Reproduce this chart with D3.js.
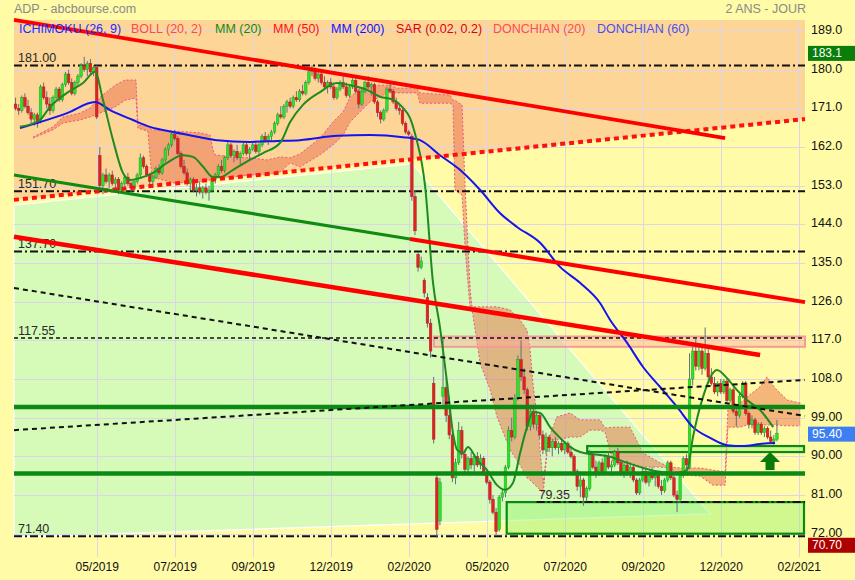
<!DOCTYPE html>
<html><head><meta charset="utf-8">
<script src="https://cdn.jsdelivr.net/npm/d3@7"></script>
<style>
body{margin:0;background:#FFFBA6;}
svg{display:block;font-family:"Liberation Sans",Arial,sans-serif;}
</style></head>
<body><svg id="c" width="855" height="580"></svg>
<script>
// ---------- DATA ----------
const opens=[172,171,170.5,173.5,171.5,170,168.5,169.5,168,176,
173.5,172,170.5,173.5,175.5,173,176.5,179,177,174.5,
177,178.5,181,180,181.5,179.5,180.5,160,153,155.5,
154,155.5,153.5,154.5,152,153.5,155,153.5,152.5,154,
155.5,159.5,157.5,155.5,154,155,157,156,159,161.5,
162.5,165,164,160.5,157.5,156,153.5,154.5,152,152.5,
151.5,152.5,151.5,152,154.5,155.5,157.5,156.5,159.5,162.5,
160,161,159.5,160.5,162.5,160.5,161.5,162.5,161,162.5,
164.5,163.5,164.5,165.5,167.5,169.5,169,171.5,172.5,171.5,
173.5,173,175,174.5,177,179.5,180,178,179,177,
176,177,176,173.5,175.5,177,176,174,176,177.5,
175,172,175,177,176,176.5,172.5,170,168.5,170.5,
175.5,175,172.5,171,170.5,167.5,165.5,164.5,150.5,137,
134,131,127,121,107,85,75,104,106,99.5,
95,85,88.5,96,90.5,87,89.5,88,90,88,
89.5,86,84,80,77,73,80.5,81.5,87.5,96,
94.5,103.5,112.5,108.5,105.5,97,100.5,97.5,99.5,95,
91.5,94.5,92,93.5,92,93,91.5,93,91,90,
86.5,83,84.5,80.5,82.5,90.5,87.5,86,88.5,86.5,
90,87.5,88,91,88.5,86,88,86.5,87.5,84.5,
81.5,84.5,86.5,84,86,85,85.5,83,82,84.5,
88.5,85,81,80,85.5,89.5,87.5,108,114.5,111,
114.5,110.5,114,108.5,107,105,107,105,107.5,103,
105.5,100.5,99.5,104,107,100,97.5,98.5,95.5,97.5,
95.5,96.5,94.5,93.5,94];
const highs=[173.5,172,174,174.5,173,171,170,170,176.5,177,
175,173.5,174,176,176,177,179.5,180,178,177.5,
179,181.5,183,182,182.5,181,181,162,156,157,
156,156.5,155,155,154,155.5,156,154,154.5,156,
160.5,160,158,156,155.5,157.5,158,159.5,162,163,
165.5,166,164.5,161,159,157,155,155,153.5,154,
153,153.5,153,155,156,158,159,160,163.5,163,
161.5,162.5,161,163,163,162,163,163.5,163,165,
165.5,165,166,168,170,171.5,172,173,173.5,174,
175,175.5,176.5,177.5,180.5,181,180.5,179.5,180,178.5,
177.5,178,177,176,177.5,178.5,177,176.5,178,178,
175.5,175.5,177.5,178.5,177,177,173,170.5,171,176,
177,175.5,173.5,172,171,168,166,165,152,137.5,
136.5,131.5,128,122,108.5,86,85,117.5,108.5,104,
96,89.5,98,97,91.5,90,91,90.5,91,90.5,
90,87,84.5,81,78,81,82.5,88,97,99,
104.5,113.5,117,110.5,106,101.5,102,100.5,100,96,
95.5,95,94,94.5,93.5,94,93.5,93.5,92.5,90.5,
87,85.5,85,83,91.5,91,89,89,89.5,90.5,
91,89,91.5,92,89,88.5,89,88,88,85,
85,87.5,87,86.5,87.5,86,86.5,84.5,85,89,
89,85.5,82,86,90,90.5,114,115.5,117.5,115.5,
116,120,115,110.5,108.5,107.5,108,108,108,106,
106,101.5,104.5,107.5,107.5,100.5,99.5,99,98,98,
97,97,96,95,98.5];
const lows=[170.5,169.5,170,171,169.5,167.5,167,166.5,167.5,173,
171,169.5,170,173,172.5,172.5,176,176.5,174,174,
176,178,179.5,178.5,179,178.5,168.5,152,151,153.5,
152.5,153,152,151,151.5,152,153,151.5,151.5,153.5,
155,157,155,153,152.5,154.5,155.5,155.5,158.5,160,
162,163.5,160,157,155.5,153,152,151.5,150.5,151,
150,151,149.5,151.5,153.5,155,156,156,159,159.5,
158.5,159,158,160,160,159,161,160.5,160,162,
163,162.5,163.5,165,167,168.5,168.5,170,171,171,
172.5,172.5,174,174,176.5,178.5,177.5,177,176.5,175.5,
174.5,175.5,173,173,175,175.5,173.5,173.5,175.5,174.5,
171,171.5,174.5,175.5,174,172,169,167.5,168,170,
174.5,172,170.5,169.5,167,165,164.5,149.5,141.5,133,
133.5,127,120,113,93,71,74,102,98,94,
84,83.5,88,89.5,86,86,87,86.5,87.5,87,
85.5,83.5,79,76.5,71.5,72.5,79.5,80.5,87,93.5,
94,103,107.5,104.5,96,96,96.5,96,94,90.5,
90.5,91,90,91.5,90.5,91,90.5,90.5,89.5,86,
82,80.5,78.5,79.5,82,87,85,85.5,86,86,
87,85.5,87.5,88,85.5,85,85.5,85,84,81,
81,84,83.5,83,84.5,83,82.5,81,81.5,84,
84.5,80.5,77,79.5,85,87,87,106.5,110,110,
109,110,108,106.5,104.5,104,104.5,104.5,102.5,102.5,
100,97,99,103.5,99.5,96.5,96.5,95,95,95,
94.5,94,93,92.5,93.5];
const closes=[171,170.5,173.5,171.5,170,168.5,169.5,167.5,176,173.5,
172,170.5,173.5,175.5,173,176.5,179,177,174.5,177,
178.5,181,180,181.5,179.5,180.5,169,153,155.5,154,
155.5,153.5,154.5,152,153.5,155,153.5,152.5,154,155.5,
159.5,157.5,155.5,154,155,157,156,159,161.5,162.5,
165,164,160.5,157.5,156,153.5,154.5,152,152.5,151.5,
152.5,151.5,152,154.5,155.5,157.5,156.5,159.5,162.5,160,
161,159.5,160.5,162.5,160.5,161.5,162.5,161,162.5,164.5,
163.5,164.5,165.5,167.5,169.5,169,171.5,172.5,171.5,173.5,
173,175,174.5,177,179.5,180,178,179,177,176,
177,176,173.5,175.5,177,176,174,176,177.5,175,
172,175,177,176,176.5,172.5,170,168.5,170.5,175.5,
175,172.5,171,170.5,167.5,165.5,165,150.5,142.5,134,
135.5,128,121,114.5,94,73,84,106,99.5,95,
85,88.5,96,90.5,87,89.5,88,90,88,89.5,
86,84,80,77,72.5,80.5,81.5,87.5,96,94.5,
103.5,112.5,108.5,105.5,97,100.5,97.5,99.5,95,91.5,
94.5,92,93.5,92,93,91.5,93,91,90,86.5,
83,84.5,80.5,82.5,90.5,87.5,86,88.5,86.5,90,
87.5,88,91,88.5,86,88,86.5,87.5,84.5,81.5,
84.5,86.5,84,86,85,85.5,83,82,84.5,88.5,
85,81,80,85.5,89.5,88,108,114.5,111,114.5,
110.5,114,108.5,107,105,107,105,107.5,103,105.5,
100.5,99.5,104,107,100,97.5,98.5,95.5,97.5,95.5,
96.5,94.5,93.5,94,95.4];

// moving averages (bar index, value)
const mm20Idx=[1.4,7.8,11,16.5,21.6,25.5,28,31.2,34.4,36.7,39.9,44.1,48.5,53.7,56.9,60.1,63.3,65.5,69.7,75.1,79.3,84.8,88,92.1,97.6,103,107.2,112.6,116.8,121,124.2,126.4,128.7,130.3,131.2,133.8,136,138.3,140.2,141.5,143.4,145,147.9,151.1,154.3,156.9,159.4,161.7,163.9,165.8,168.1,171.3,174.5,177.7,180.9,190.5,196,201.1,206.5,212,215.2,217.1,220.3,224.8,228,231.2,234.4,238.6,242.8];
const mm20Val=[166.7,168.3,171.3,174.6,176.9,179.5,173,163.7,156,154.3,154.8,156,158.3,160.1,159.7,157.4,155,155,156.7,159,160.6,163,167.8,171.8,174.8,176.9,176.4,175.3,173.7,173,171.1,168.8,163.2,157.8,153.2,130.3,120.1,107.1,95.4,91.5,90.8,92.2,89.2,86.8,83.3,82.2,83.8,90.8,96.8,100.3,100.1,96.8,94.3,92.2,91,89.9,88.5,87.3,86.4,86.1,86.8,94.5,103.8,110.1,108.2,105.4,103.1,100.8,96.8];
const mm200Idx=[1.4,7.8,16.5,25.5,30.3,37.6,43.1,50.5,59.1,64.6,75.1,83.8,91.2,103,113.6,124.2,129.6,136,142.4,148.9,155.3,160.7,168.1,174.5,180.9,187.3,190.5,196,201.1,206.5,212,217.1,222.6,228,233.2,238.6,243.4];
const mm200Val=[166.4,167.8,169.9,172.5,170.6,168.3,166.7,165.5,164.3,163.6,163.2,163.4,163.6,164.6,164.8,164.3,163.6,160.1,156.7,152,146.6,143.4,139.7,134.1,130.4,125.7,121.8,116.4,110.8,106.2,101.5,96.8,94.3,92.6,92.4,92.9,93.1];

// Ichimoku cloud (bar index, span high, span low)
const cloudIdx=[5.6,12,15.2,20.7,23.9,27.1,31.9,35.1,38.6,39.2,42.4,43.7,51.1,59.1,62.3,63.3,63.9,69.7,75.1,80.6,84.8,88,91.2,97.6,101.7,105,107.2,110.4,113.6,117.8,120,122.3,128.7,129.6,139.2,140.2,140.8,143.1,144.1,145.7,146.3,148.9,152.1,154.3,158.5,161.7,163.9,164.9,165.8,167.1,168.1,169.1,170.7,173.5,177.7,180.9,184.1,187.3,188.9,191.5,196.9,201.1,206.5,209.8,213,219.4,223.5,227.4,228.3,232.2,234.4,238.6,240.8,243.4,247.3,251.5];
const cloudHi=[164.3,166.7,169.0,169.9,171.1,173.6,176.4,177.6,177.6,167.1,166.9,166.0,165.7,165.3,164.8,161.3,160.2,159.7,159.5,159.0,159.7,159.5,160.4,164.1,167.8,170.2,173.6,175.7,176.4,176.4,176.4,175.7,175.7,174.6,174.1,172.9,172.9,171.8,152.0,128.7,124.8,124.8,124.8,124.8,124.1,121.7,119.4,114.8,107.1,99.2,91.5,83.8,93.8,99.2,100.1,98.5,98.5,98.5,96.6,96.8,96.8,90.8,88.5,87.5,87.3,87.3,86.8,86.4,100.8,102.4,103.8,106.2,108.5,105.9,103.1,102.4];
const cloudLo=[164.1,166.0,167.6,168.3,169.0,169.9,171.3,172.9,173.4,166.4,165.7,155.0,153.6,153.9,154.3,154.8,155.0,155.0,155.5,155.5,156.2,158.3,157.4,160.2,162.5,164.8,167.8,170.2,172.5,174.1,174.8,174.6,174.6,172.2,172.2,171.8,152.0,150.8,138.0,124.1,124.1,111.7,105.5,99.2,91.5,88.0,85.0,84.5,83.8,82.9,82.2,81.5,93.8,93.8,94.5,94.5,96.1,96.1,95.7,88.5,88.5,87.5,87.5,87.3,85.7,85.4,83.3,83.3,96.8,96.8,97.3,97.3,97.3,97.3,97.1,97.1];

// axes
const yTicks=[189,180,171,162,153,144,135,126,117,108,99,90,81,72];
const xTickIdx=[26,51,76,101,126,151,176,201,226,251];
const xTickLabels=["05/2019","07/2019","09/2019","12/2019","02/2020","05/2020","07/2020","09/2020","12/2020","02/2021"];

// drawings (bar index, price)
const trendA=[[-0.5,191.6],[227.4,164.1]];
const trendDotted=[[-0.5,149.7],[253,168.5]];
const trendGreen=[[-0.5,155.5],[126.4,140.6]];
const trendD=[[126.4,140.6],[253,125.9]];
const trendE=[[-0.5,141.1],[238.6,113.6]];
const dashF=[[-0.5,129.2],[253,99.4]];
const dashG=[[-0.5,96.1],[253,107.8]];
const greenZone=[[-0.5,148.5],[127.1,158.1],[222.6,76.6],[-0.5,71.2]];
const supportLines=[101.5,86.0];
const levelVals=[181.00,151.70,137.70,71.40];
const levelLabels=["181.00","151.70","137.70","71.40"];
const dashedLevel=117.55, dashedLevelLabel="117.55";
const level7935=79.35, level7935Start=167, level7935Label="79.35";
const pinkZone={i0:134.1,i1:253,hi:117.9,lo:115.5};
const smallBox={i0:183.2,i1:253,hi:92.4,lo:91.0};
const bigBox={i0:157.4,i1:253,hi:79.35,lo:72.0};
const arrowAt=[241.8,91.0];
const priceTags=[{v:183.1,t:"183.1",c:"#0a7d0a",dy:-3},{v:95.40,t:"95.40",c:"#3d7ff2",dy:1},{v:70.70,t:"70.70",c:"#ad0000",dy:6}];
const legendItems=[
 {t:"ICHIMOKU (26, 9)",c:"#1a2cff"},{t:"BOLL (20, 2)",c:"#ff4848"},{t:"MM (20)",c:"#108a10"},
 {t:"MM (50)",c:"#ff1010"},{t:"MM (200)",c:"#1010ff"},{t:"SAR (0.02, 0.2)",c:"#e00000"},
 {t:"DONCHIAN (20)",c:"#ff4c4c"},{t:"DONCHIAN (60)",c:"#5050e0"}];
const legendX=[19,131,215,273,331,396,493,597];

// ---------- LAYOUT ----------
const W=855,H=580,L=14,R=805,T=20,B=555;
const BG="#FFFBA6",ORANGE="#FDD697",GREEN="#D6FBB8";
const x=d3.scaleLinear().domain([-0.5,253]).range([L,R]);
const y=d3.scaleLinear().domain([67.04,191.57]).range([B,T]);
const svg=d3.select("#c");
const P=d=>[x(d[0]),y(d[1])];
const line=d3.line();

svg.append("rect").attr("width",W).attr("height",H).attr("fill",BG);

// orange zone above dotted trend
svg.append("path").attr("fill",ORANGE)
 .attr("d",line([[x(-0.5),T],[x(253),T],P(trendDotted[1]),P(trendDotted[0])])+"Z");
// green triangle zone
svg.append("path").attr("fill",GREEN).attr("stroke","#ffffff").attr("stroke-width",1.2)
 .attr("d",line(greenZone.map(P))+"Z");

// grid
const grid=svg.append("g").attr("stroke","#d9d3ee").attr("stroke-width",1).attr("opacity",0.9);
grid.selectAll("line.h").data(yTicks).join("line").attr("class","h")
 .attr("x1",L).attr("x2",R).attr("y1",d=>Math.round(y(d))+0.5).attr("y2",d=>Math.round(y(d))+0.5);
grid.selectAll("line.v").data(xTickIdx).join("line").attr("class","v")
 .attr("y1",T).attr("y2",B+2).attr("x1",d=>Math.round(x(d))+0.5).attr("x2",d=>Math.round(x(d))+0.5);

// Ichimoku cloud
const cIdx=d3.range(cloudIdx.length);
svg.append("path").attr("fill","rgba(232,105,70,0.47)")
 .attr("d",d3.area().x(i=>x(cloudIdx[i])).y0(i=>y(cloudLo[i])).y1(i=>y(cloudHi[i]))(cIdx));
[cloudHi,cloudLo].forEach(arr=>{
 svg.append("path").attr("fill","none").attr("stroke","#f0508a").attr("stroke-width",1)
  .attr("stroke-dasharray","2,2")
  .attr("d",d3.line().x(i=>x(cloudIdx[i])).y(i=>y(arr[i]))(cIdx));
});

// zones
svg.append("rect").attr("x",x(pinkZone.i0)).attr("width",x(pinkZone.i1)-x(pinkZone.i0))
 .attr("y",y(pinkZone.hi)).attr("height",y(pinkZone.lo)-y(pinkZone.hi))
 .attr("fill","rgba(255,175,150,0.45)").attr("stroke","#f49a9a").attr("stroke-width",2);
[bigBox,smallBox].forEach(b=>{
 svg.append("rect").attr("x",x(b.i0)).attr("width",x(b.i1)-x(b.i0)-1)
  .attr("y",y(b.hi)).attr("height",y(b.lo)-y(b.hi))
  .attr("fill","rgba(150,245,115,0.45)").attr("stroke","#0a8a14").attr("stroke-width",2.2);
});

// horizontal levels
const lv=svg.append("g");
lv.selectAll("line.dd").data(levelVals).join("line").attr("class","dd")
 .attr("x1",L).attr("x2",R).attr("y1",d=>y(d)).attr("y2",d=>y(d))
 .attr("stroke","#111").attr("stroke-width",2).attr("stroke-dasharray","8,3,2,3");
lv.append("line").attr("x1",L).attr("x2",R).attr("y1",y(dashedLevel)).attr("y2",y(dashedLevel))
 .attr("stroke","#111").attr("stroke-width",1.6).attr("stroke-dasharray","4,3");
lv.append("line").attr("x1",x(level7935Start)).attr("x2",R).attr("y1",y(level7935)).attr("y2",y(level7935))
 .attr("stroke","#111").attr("stroke-width",2).attr("stroke-dasharray","8,3,2,3");
const lblStyle=s=>s.attr("font-size","12.5px").attr("fill","#2a2a2a");
lv.selectAll("text.l").data(levelVals).join("text").attr("class","l")
 .attr("x",L+4).attr("y",d=>y(d)-3).text((d,k)=>levelLabels[k]).call(lblStyle);
lv.append("text").attr("x",L+4).attr("y",y(dashedLevel)-3).text(dashedLevelLabel).call(lblStyle);
lv.append("text").attr("x",x(level7935Start)+2).attr("y",y(level7935)-3).text(level7935Label).call(lblStyle);

// candles
const idx=d3.range(closes.length);
const cg=svg.append("g");
cg.selectAll("line").data(idx).join("line")
 .attr("x1",i=>x(i)).attr("x2",i=>x(i)).attr("y1",i=>y(highs[i])).attr("y2",i=>y(lows[i]))
 .attr("stroke","#5f6f80").attr("stroke-width",1);
cg.selectAll("rect").data(idx).join("rect")
 .attr("x",i=>x(i)-1.3).attr("width",2.6)
 .attr("y",i=>y(Math.max(opens[i],closes[i])))
 .attr("height",i=>Math.max(1,Math.abs(y(opens[i])-y(closes[i]))))
 .attr("fill",i=>closes[i]>=opens[i]?"#2fe02f":"#dc2424")
 .attr("stroke",i=>closes[i]>=opens[i]?"#1fa81f":"#b81c1c").attr("stroke-width",0.5);

// moving averages
const ma=(ix,vals,col)=>svg.append("path").attr("fill","none").attr("stroke",col).attr("stroke-width",2)
 .attr("d",d3.line().curve(d3.curveMonotoneX).x(k=>x(ix[k])).y(k=>y(vals[k]))(d3.range(ix.length)));
ma(mm200Idx,mm200Val,"#1414ee");
ma(mm20Idx,mm20Val,"#1f8a1f");

// drawings
const seg=(pts,col,w,dash)=>{const p=svg.append("path").attr("fill","none").attr("stroke",col)
 .attr("stroke-width",w).attr("d",line(pts.map(P))); if(dash)p.attr("stroke-dasharray",dash);return p;};
supportLines.forEach(v=>seg([[-0.5,v],[253,v]],"#0a8a14",4.5));
seg(dashF,"#111",2,"5,4");
seg(dashG,"#111",2,"5,4");
seg(trendDotted,"#ff1010",4,"5,4");
seg(trendGreen,"#118a11",3.2);
seg(trendD,"#ff0000",4);
seg(trendE,"#ff0000",4.5);
seg(trendA,"#ff0000",3.8);

// arrow
const [ax,ay]=P(arrowAt);
svg.append("path").attr("fill","#0a7a0a")
 .attr("d",`M${ax},${ay} L${ax+10},${ay+10} L${ax+4.5},${ay+10} L${ax+4.5},${ay+18} L${ax-4.5},${ay+18} L${ax-4.5},${ay+10} L${ax-10},${ay+10} Z`);

// right axis
const fmt=d=>d>=100?d.toFixed(1):d.toFixed(2);
const ya=svg.append("g").attr("transform",`translate(${R},0)`)
 .call(d3.axisRight(y).tickValues(yTicks).tickFormat(fmt).tickSize(0).tickPadding(6));
ya.select(".domain").remove();
ya.selectAll("text").attr("font-size","12.5px").attr("fill","#111").attr("font-family","Liberation Sans, Arial, sans-serif").attr("dy","0.2em");

// bottom axis
const xa=svg.append("g").attr("transform",`translate(0,${B})`)
 .call(d3.axisBottom(x).tickValues(xTickIdx).tickFormat((d,k)=>xTickLabels[k]).tickSize(0).tickPadding(7));
xa.select(".domain").remove();
xa.selectAll("text").attr("font-size","12px").attr("fill","#111").attr("font-family","Liberation Sans, Arial, sans-serif");

// price tags
priceTags.forEach(p=>{
 const cy=y(p.v)+p.dy;
 svg.append("rect").attr("x",R+3).attr("y",cy-7.5).attr("width",W-R-3).attr("height",15).attr("fill",p.c);
 svg.append("text").attr("x",R+7).attr("y",cy+4).text(p.t).attr("font-size","12px").attr("fill","#fff");
});

// legend + title
svg.selectAll("text.lg").data(legendItems).join("text").attr("class","lg")
 .attr("x",(d,k)=>legendX[k]).attr("y",33).text(d=>d.t).attr("fill",d=>d.c).attr("font-size","12.5px");
svg.append("text").attr("x",14).attr("y",13).text("ADP - abcbourse.com").attr("fill","#8a8a8a").attr("font-size","12.5px");
svg.append("text").attr("x",806).attr("y",13).attr("text-anchor","end").text("2 ANS - JOUR").attr("fill","#8a8a8a").attr("font-size","12.5px");
</script></body></html>
